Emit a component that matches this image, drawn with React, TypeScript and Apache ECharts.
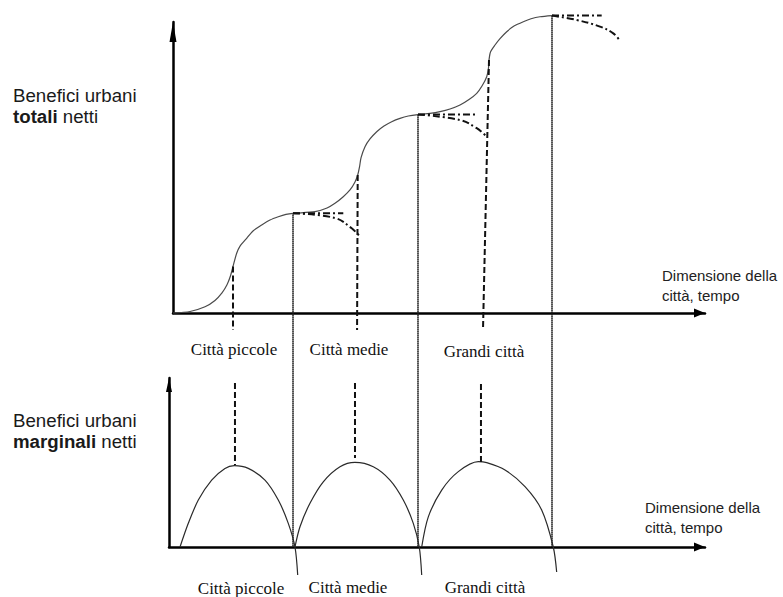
import React, { useEffect, useRef } from "react";
import * as echarts from "echarts";

// ---- Data (conceptual units) ----
const sizeLabels = ["Città piccole", "Città medie", "Grandi città"];
const xAxisTitle = ["Dimensione della", "città, tempo"];
const topTitle = ["Benefici urbani", "totali", "netti"];
const bottomTitle = ["Benefici urbani", "marginali", "netti"];

// total net urban benefits (S-curve steps)
const totalCurve: [number, number][] = [
  [0, 0], [3.2, 0.52], [6.02, 2.13], [7.89, 4.3], [9.21, 6.9], [10.15, 9.69],
  [10.81, 12.8], [11.28, 16.0], [11.97, 20.52], [12.6, 23.0], [13.85, 25.67],
  [15.04, 28.2], [16.67, 30.24], [18.23, 31.96], [19.79, 33.09], [21.24, 33.9],
  [22.56, 34.26], [26.69, 34.81], [28.95, 36.08], [30.45, 37.7], [31.95, 39.86],
  [33.27, 42.27], [34.21, 45.02], [34.72, 47.42], [35.06, 50.2], [35.34, 53.3],
  [36.09, 57.15], [37.03, 59.8], [38.29, 62.3], [39.66, 64.26], [41.11, 65.74],
  [42.67, 66.9], [44.23, 67.7], [46.05, 68.2], [48.31, 68.6], [50.19, 69.18],
  [52.07, 70.1], [53.95, 71.48], [55.64, 73.37], [57.09, 75.5], [58.08, 78.0],
  [58.97, 81.2], [59.3, 84.2], [59.4, 86.94], [59.68, 89.7], [60.53, 92.1],
  [61.47, 94.3], [62.73, 96.67], [64.1, 98.6], [65.85, 100.1], [67.3, 101.1],
  [68.98, 101.8], [71.24, 102.2],
];

// continuation beyond each plateau (dash-dot)
const plateauFlat: [number, number][][] = [
  [[22.56, 34.26], [32.01, 34.26]],
  [[46.05, 68.2], [56.77, 68.2]],
  [[71.24, 102.2], [80.58, 102.2]],
];
const plateauDecline: [number, number][][] = [
  [[22.56, 34.26], [30.45, 32.65], [33.59, 29.1], [35.15, 26.2]],
  [[46.05, 68.2], [53.95, 66.3], [57.09, 63.5], [58.97, 60.6]],
  [[71.24, 102.2], [75.88, 100.7], [80.26, 98.4], [82.76, 96.1], [84.02, 93.5]],
];

// dashed drops from inflection points (top panel)
const inflectionDrops: [number, number][][] = [
  [[11.28, 16.0], [11.28, -5.84]],
  [[34.72, 47.42], [34.6, -5.84]],
  [[59.4, 86.94], [58.27, -5.84]],
];

// marginal net urban benefits (arches)
const arches: [number, number][][] = [
  [[1.32, 0], [2.88, 14.0], [4.76, 27.8], [7.27, 39.6], [9.77, 46.5], [11.52, 48.1],
   [14.15, 46.5], [17.29, 39.6], [19.79, 27.8], [21.67, 14.0], [22.93, 0], [23.44, -16.6]],
  [[22.93, 0], [23.87, 12.0], [25.75, 25.9], [28.25, 38.6], [31.39, 47.5], [34.21, 50.1],
   [37.65, 47.5], [40.79, 39.6], [43.29, 27.8], [45.17, 14.0], [46.29, 0], [46.75, -16.6]],
  [[46.75, 0], [47.99, 17.8], [50.51, 33.7], [53.63, 44.6], [57.39, 50.5], [58.97, 49.9],
   [62.41, 45.6], [66.17, 35.7], [69.3, 21.9], [71.48, 0], [72.12, -14.8]],
];

// dashed drops above each arch peak (bottom panel)
const peakDrops: [number, number][][] = [
  [[11.65, 97.0], [11.65, 48.5]],
  [[34.21, 97.0], [34.21, 52.7]],
  [[57.89, 96.4], [57.89, 50.3]],
];

// plateau points linked by dotted lines to the bottom axis
const plateauPoints: [number, number][] = [
  [22.56, 34.26],
  [46.05, 68.2],
  [71.24, 102.2],
];

// ---- Layout / styles ----
const topLabelPos = [[234, 349], [349, 349], [484, 351]];
const bottomLabelPos = [[241, 588], [348, 587], [485, 587]];

const axisLineCommon = (size: number[]) => ({
  show: true,
  onZero: false,
  symbol: ["none", "triangle"],
  symbolSize: size,
  symbolOffset: [0, -size[1] / 2],
  lineStyle: { color: "#000", width: 2.5 },
});

const hiddenBits = {
  axisTick: { show: false },
  axisLabel: { show: false },
  splitLine: { show: false },
};

const lineSeries = (
  data: [number, number][],
  idx: number,
  style: any,
  smooth: number | boolean = false
) => ({
  type: "line",
  xAxisIndex: idx,
  yAxisIndex: idx,
  data,
  smooth,
  symbol: "none",
  clip: false,
  silent: true,
  lineStyle: style,
  z: 3,
});

export default function App() {
  const ref = useRef<HTMLDivElement>(null);
  useEffect(() => {
    if (!ref.current) return;
    const chart = echarts.init(ref.current, undefined, { renderer: "svg" });
    const curveStyle = { color: "#4a4a4a", width: 1.2 };
    const dashDot = { color: "#111", width: 2, type: [7, 3, 2, 3] };
    const dashed = { color: "#111", width: 2, type: [6, 3] };

    const series: any[] = [];
    series.push(lineSeries(totalCurve, 0, curveStyle, 0.25));
    plateauFlat.forEach((d) => series.push(lineSeries(d, 0, dashDot)));
    plateauDecline.forEach((d) => series.push(lineSeries(d, 0, dashDot, 0.4)));
    inflectionDrops.forEach((d) => series.push(lineSeries(d, 0, dashed)));
    arches.forEach((d) => series.push(lineSeries(d, 1, { color: "#2a2a2a", width: 1.2 }, 0.3)));
    peakDrops.forEach((d) => series.push(lineSeries(d, 1, dashed)));

    chart.setOption({
      animation: false,
      backgroundColor: "#fff",
      grid: [
        { left: 173, top: 22, width: 532, height: 291 },
        { left: 169, top: 378, width: 536, height: 169 },
      ],
      xAxis: [
        { type: "value", gridIndex: 0, min: 0, max: 100, axisLine: axisLineCommon([9, 11]), ...hiddenBits },
        { type: "value", gridIndex: 1, min: -0.75, max: 100, axisLine: axisLineCommon([9, 11]), ...hiddenBits },
      ],
      yAxis: [
        { type: "value", gridIndex: 0, min: 0, max: 100, axisLine: axisLineCommon([7, 20]), ...hiddenBits },
        { type: "value", gridIndex: 1, min: 0, max: 100, axisLine: axisLineCommon([6, 14]), ...hiddenBits },
      ],
      series,
    });

    const graphics: any[] = [];
    plateauPoints.forEach(([x, y]) => {
      const p0 = chart.convertToPixel({ gridIndex: 0 } as any, [x, y]) as number[];
      const p1 = chart.convertToPixel({ gridIndex: 1 } as any, [x, 0]) as number[];
      graphics.push({
        type: "line",
        silent: true,
        z: 2,
        shape: { x1: p0[0], y1: p0[1], x2: p1[0], y2: p1[1] },
        style: { stroke: "#1a1a1a", lineWidth: 2, lineDash: [1.2, 0.8] },
      });
    });

    const sansTitle = (lines: string[], x: number, y: number) => ({
      type: "text",
      x,
      y,
      silent: true,
      style: {
        text: `${lines[0]}\n{b|${lines[1]}} ${lines[2]}`,
        fill: "#1a1a1a",
        fontSize: 18.7,
        fontFamily: "Liberation Sans, Arial, sans-serif",
        lineHeight: 21,
        verticalAlign: "middle",
        rich: {
          b: { fontWeight: "bold", fontSize: 18.7, fontFamily: "Liberation Sans, Arial, sans-serif", fill: "#1a1a1a", lineHeight: 21 },
        },
      },
    });
    graphics.push(sansTitle(topTitle, 13, 105.5));
    graphics.push(sansTitle(bottomTitle, 13, 430.5));

    const axisTitle = (x: number, y: number) => ({
      type: "text",
      x,
      y,
      silent: true,
      style: {
        text: xAxisTitle.join("\n"),
        fill: "#222",
        fontSize: 15,
        fontFamily: "Liberation Sans, Arial, sans-serif",
        lineHeight: 20,
        verticalAlign: "middle",
      },
    });
    graphics.push(axisTitle(662, 285));
    graphics.push(axisTitle(645, 517));

    const serifLabel = (text: string, pos: number[]) => ({
      type: "text",
      x: pos[0],
      y: pos[1],
      silent: true,
      style: {
        text,
        fill: "#111",
        fontSize: 17,
        fontFamily: "Liberation Serif, Times New Roman, serif",
        align: "center",
        verticalAlign: "middle",
      },
    });
    sizeLabels.forEach((t, i) => graphics.push(serifLabel(t, topLabelPos[i])));
    sizeLabels.forEach((t, i) => graphics.push(serifLabel(t, bottomLabelPos[i])));

    chart.setOption({ graphic: graphics });

    return () => chart.dispose();
  }, []);

  return (
    <div
      ref={ref}
      style={{ position: "fixed", left: 0, top: 0, width: 783, height: 597, background: "#fff" }}
    />
  );
}
